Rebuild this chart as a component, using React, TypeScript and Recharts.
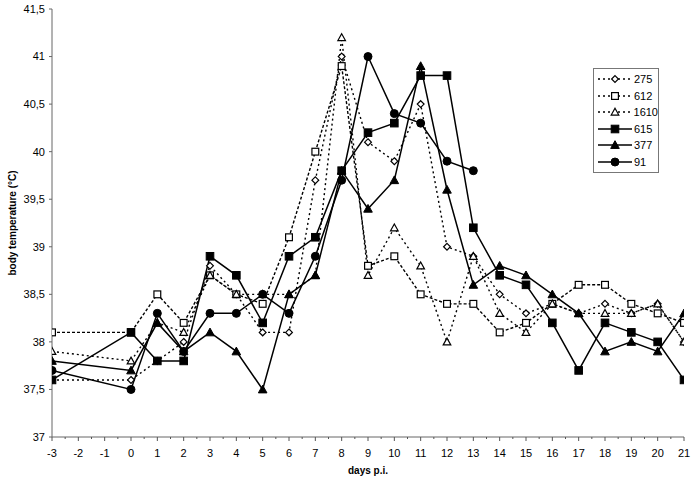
import React from 'react';
import { LineChart, Line, XAxis, YAxis, Legend, Label } from 'recharts';

// days post infection (no readings on -2 and -1)
const days = [-3, 0, 1, 2, 3, 4, 5, 6, 7, 8, 9, 10, 11, 12, 13, 14, 15, 16, 17, 18, 19, 20, 21];

const temp275 = [37.6, 37.6, 37.8, 38.0, 38.8, 38.5, 38.1, 38.1, 39.7, 41.0, 40.1, 39.9, 40.5, 39.0, 38.9, 38.5, 38.3, 38.4, 38.3, 38.4, 38.3, 38.4, 38.0];
const temp612 = [38.1, 38.1, 38.5, 38.2, 38.7, 38.5, 38.4, 39.1, 40.0, 40.9, 38.8, 38.9, 38.5, 38.4, 38.4, 38.1, 38.2, 38.4, 38.6, 38.6, 38.4, 38.3, 38.2];
const temp1610 = [37.9, 37.8, 38.2, 38.1, 38.7, 38.5, 38.5, 38.5, 38.7, 41.2, 38.7, 39.2, 38.8, 38.0, 38.9, 38.3, 38.1, 38.4, 38.3, 38.3, 38.3, 38.4, 38.0];
const temp615 = [37.6, 38.1, 37.8, 37.8, 38.9, 38.7, 38.2, 38.9, 39.1, 39.8, 40.2, 40.3, 40.8, 40.8, 39.2, 38.7, 38.6, 38.2, 37.7, 38.2, 38.1, 38.0, 37.6];
const temp377 = [37.8, 37.7, 38.2, 37.9, 38.1, 37.9, 37.5, 38.5, 38.7, 39.8, 39.4, 39.7, 40.9, 39.6, 38.6, 38.8, 38.7, 38.5, 38.3, 37.9, 38.0, 37.9, 38.3];
const temp91 = [37.7, 37.5, 38.3, 37.9, 38.3, 38.3, 38.5, 38.3, 38.9, 39.7, 41.0, 40.4, 40.3, 39.9, 39.8, null, null, null, null, null, null, null, null];

const dayTicks = [-3, -2, -1, 0, 1, 2, 3, 4, 5, 6, 7, 8, 9, 10, 11, 12, 13, 14, 15, 16, 17, 18, 19, 20, 21];
const tempTicks = [37, 37.5, 38, 38.5, 39, 39.5, 40, 40.5, 41, 41.5];

const data = days.map((d, i) => ({
  day: d,
  a275: temp275[i],
  a612: temp612[i],
  a1610: temp1610[i],
  a615: temp615[i],
  a377: temp377[i],
  a91: temp91[i],
}));

type Shape = 'diamond' | 'square' | 'triangle' | 'circle';

const series: { key: string; name: string; shape: Shape; filled: boolean; dash?: string }[] = [
  { key: 'a275', name: '275', shape: 'diamond', filled: false, dash: '2 3' },
  { key: 'a612', name: '612', shape: 'square', filled: false, dash: '3 2' },
  { key: 'a1610', name: '1610', shape: 'triangle', filled: false, dash: '2 3' },
  { key: 'a615', name: '615', shape: 'square', filled: true },
  { key: 'a377', name: '377', shape: 'triangle', filled: true },
  { key: 'a91', name: '91', shape: 'circle', filled: true },
];

const FONT = '"Liberation Sans", Arial, sans-serif';

function marker(shape: Shape, filled: boolean, cx: number, cy: number, key?: string | number) {
  const fill = filled ? '#000' : '#fff';
  const sw = filled ? 1 : 1.2;
  if (shape === 'square') {
    const h = filled ? 3.8 : 3.4;
    return <rect key={key} x={cx - h} y={cy - h} width={h * 2} height={h * 2} fill={fill} stroke="#000" strokeWidth={sw} />;
  }
  if (shape === 'circle') {
    return <circle key={key} cx={cx} cy={cy} r={4} fill={fill} stroke="#000" strokeWidth={sw} />;
  }
  if (shape === 'triangle') {
    const h = filled ? 4.3 : 3.8;
    return (
      <polygon key={key} points={`${cx},${cy - h} ${cx + h},${cy + h * 0.8} ${cx - h},${cy + h * 0.8}`} fill={fill} stroke="#000" strokeWidth={sw} />
    );
  }
  const d = 3.4;
  return <polygon key={key} points={`${cx},${cy - d} ${cx + d},${cy} ${cx},${cy + d} ${cx - d},${cy}`} fill={fill} stroke="#000" strokeWidth={sw} />;
}

const dotFor = (shape: Shape, filled: boolean) => (props: any) => {
  const { cx, cy, index, payload } = props;
  if (cx == null || cy == null || payload == null) return <g key={`e-${index}`} />;
  return marker(shape, filled, cx, cy, `d-${index}`);
};

// x axis tick: major label on whole days, small marks on half days
const DayTick = (props: any) => {
  const { x, y, payload } = props;
  const v = payload.value as number;
  const major = Number.isInteger(v);
  return (
    <g>
      <line x1={x} y1={y} x2={x} y2={y + (major ? 4 : 2)} stroke="#555" strokeWidth={1} />
      {major && (
        <text x={x} y={y + 20} textAnchor="middle" fontSize={11} fontFamily={FONT} fill="#000">
          {v}
        </text>
      )}
    </g>
  );
};

const halfTicks = dayTicks.flatMap((d, i) => (i < dayTicks.length - 1 ? [d, d + 0.5] : [d]));

const LegendBox = () => (
  <div
    style={{
      border: '1px solid #777',
      background: '#fff',
      padding: '2px 0 2px 3px',
      width: 66,
      boxSizing: 'border-box',
      fontFamily: FONT,
      fontSize: 11,
    }}
  >
    {series.map((s) => (
      <div key={s.key} style={{ display: 'flex', alignItems: 'center', height: 16.5 }}>
        <svg width={36} height={12} style={{ display: 'block' }}>
          <line x1={1} y1={6} x2={35} y2={6} stroke="#000" strokeWidth={1.4} strokeDasharray={s.dash ? '2 3' : undefined} />
          {marker(s.shape, s.filled, 18, 6)}
        </svg>
        <span style={{ marginLeft: 1, color: '#000' }}>{s.name}</span>
      </div>
    ))}
  </div>
);

export default function App() {
  return (
    <div style={{ position: 'absolute', left: 0, top: 0, background: '#fff' }}>
      <LineChart width={694} height={482} data={data} margin={{ top: 9, right: 10, left: 0, bottom: 0 }}>
        <XAxis
          dataKey="day"
          type="number"
          domain={[-3, 21]}
          ticks={halfTicks}
          interval={0}
          tick={<DayTick />}
          tickLine={false}
          tickSize={0}
          tickMargin={0}
          height={45}
          stroke="#666"
          allowDataOverflow
        >
          <Label
            value="days p.i."
            position="insideBottom"
            offset={8}
            style={{ fontFamily: FONT, fontSize: 10, fontWeight: 'bold', fill: '#000' }}
          />
        </XAxis>
        <YAxis
          type="number"
          domain={[37, 41.5]}
          ticks={tempTicks}
          interval={0}
          width={52}
          stroke="#666"
          tickSize={3}
          tickMargin={4}
          tickFormatter={(v: number) => String(v).replace('.', ',')}
          tick={{ fontSize: 11, fontFamily: FONT, fill: '#000' }}
          allowDataOverflow
        >
          <Label
            value="body temperature (°C)"
            angle={-90}
            position="insideLeft"
            offset={12}
            style={{ fontFamily: FONT, fontSize: 10, fontWeight: 'bold', fill: '#000', textAnchor: 'middle' }}
          />
        </YAxis>
        <Legend
          layout="vertical"
          align="center"
          verticalAlign="middle"
          content={() => <LegendBox />}
          wrapperStyle={{ position: 'absolute', left: 593, top: 68, width: 70, height: 'auto' }}
        />
        {series.map((s) => (
          <Line
            key={s.key}
            dataKey={s.key}
            name={s.name}
            type="linear"
            stroke="#000"
            strokeWidth={s.dash ? 1.4 : 1.5}
            strokeDasharray={s.dash}
            dot={dotFor(s.shape, s.filled)}
            activeDot={false}
            connectNulls={false}
            isAnimationActive={false}
          />
        ))}
      </LineChart>
    </div>
  );
}
